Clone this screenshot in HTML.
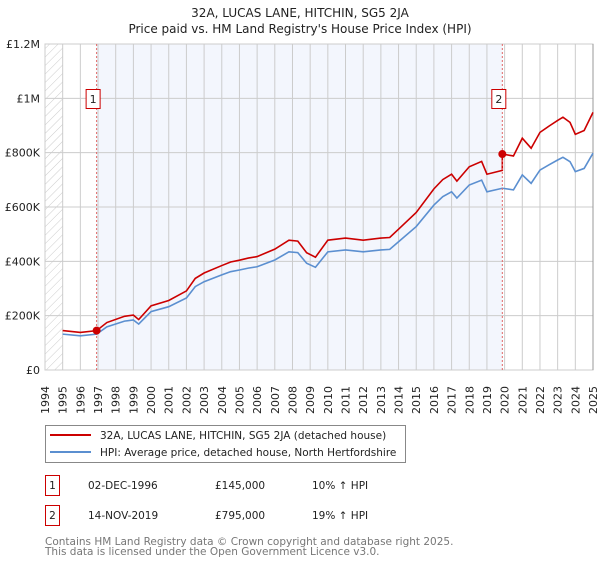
<!DOCTYPE html>
<html><head><meta charset="utf-8"><style>
body{margin:0;background:#fff;font-family:"DejaVu Sans","Liberation Sans",sans-serif;}
svg text{font-family:"DejaVu Sans","Liberation Sans",sans-serif;}
</style></head><body>
<svg id="chart" width="600" height="560" xmlns="http://www.w3.org/2000/svg">
<defs><pattern id="hatch" width="6" height="6" patternUnits="userSpaceOnUse" patternTransform="rotate(45)"><line x1="0" y1="0" x2="0" y2="6" stroke="#ccc" stroke-width="1"/></pattern></defs>
<text x="300" y="17" text-anchor="middle" font-size="12" fill="#222">32A, LUCAS LANE, HITCHIN, SG5 2JA</text>
<text x="300" y="33" text-anchor="middle" font-size="12" fill="#222">Price paid vs. HM Land Registry's House Price Index (HPI)</text>
<g id="plot"></g>
<g>
<rect x="45.5" y="425.5" width="360" height="37" fill="#fff" stroke="#888"/>
<line x1="50" y1="435" x2="91" y2="435" stroke="#cc0000" stroke-width="2"/>
<text x="100" y="439" font-size="10.5" fill="#222">32A, LUCAS LANE, HITCHIN, SG5 2JA (detached house)</text>
<line x1="50" y1="452" x2="91" y2="452" stroke="#5b8fd0" stroke-width="2"/>
<text x="100" y="456" font-size="10.5" fill="#222">HPI: Average price, detached house, North Hertfordshire</text>
</g>
<g>
<rect x="45.5" y="475.5" width="14" height="20" fill="#fff" stroke="#cc0000"/>
<text x="52.5" y="489" text-anchor="middle" font-size="10.5" fill="#222">1</text>
<text x="88" y="489" font-size="10.5" fill="#222">02-DEC-1996</text>
<text x="215" y="489" font-size="10.5" fill="#222">£145,000</text>
<text x="312" y="489" font-size="10.5" fill="#222">10% ↑ HPI</text>
<rect x="45.5" y="505.5" width="14" height="20" fill="#fff" stroke="#cc0000"/>
<text x="52.5" y="519" text-anchor="middle" font-size="10.5" fill="#222">2</text>
<text x="88" y="519" font-size="10.5" fill="#222">14-NOV-2019</text>
<text x="215" y="519" font-size="10.5" fill="#222">£795,000</text>
<text x="312" y="519" font-size="10.5" fill="#222">19% ↑ HPI</text>
</g>
<text x="45" y="545" font-size="10.5" fill="#777">Contains HM Land Registry data © Crown copyright and database right 2025.</text>
<text x="45" y="555" font-size="10.5" fill="#777">This data is licensed under the Open Government Licence v3.0.</text>
</svg>
<script>
const hpiYears=[1995,1996,1996.92,1997.5,1998.5,1999,1999.3,2000,2001,2002,2002.5,2003,2004,2004.5,2005,2005.5,2006,2007,2007.8,2008.3,2008.8,2009.3,2010,2011,2012,2013,2013.5,2014,2015,2016,2016.5,2017,2017.3,2018,2018.7,2019,2019.87,2020.5,2021,2021.5,2022,2022.5,2023,2023.3,2023.7,2024,2024.5,2025];
const hpiValues=[132,126,132,159,180,184,169,215,233,265,307,325,350,362,368,375,380,405,435,432,393,378,435,442,435,442,444,472,528,607,638,656,633,681,699,656,669,663,718,687,736,755,773,783,767,730,742,798];
const saleYears=[1996.92,2019.87];
const salePrices=[145,795];
const yTicks=[0,200,400,600,800,1000,1200];
const yTickLabels=["£0","£200K","£400K","£600K","£800K","£1M","£1.2M"];
const xYears=[1994,1995,1996,1997,1998,1999,2000,2001,2002,2003,2004,2005,2006,2007,2008,2009,2010,2011,2012,2013,2014,2015,2016,2017,2018,2019,2020,2021,2022,2023,2024,2025];

const L=45,R=593,T=44,B=370;
const x=y=>L+(y-1994)/(2025-1994)*(R-L);
const yv=v=>B-v/1200*(B-T);
const NS="http://www.w3.org/2000/svg";
const g=document.getElementById('plot');
function mk(t,a,p){const e=document.createElementNS(NS,t);for(const k in a)e.setAttribute(k,a[k]);(p||g).appendChild(e);return e;}
function hpiAt(t){for(let i=1;i<hpiYears.length;i++){if(t<=hpiYears[i]){const f=(t-hpiYears[i-1])/(hpiYears[i]-hpiYears[i-1]);return hpiValues[i-1]+f*(hpiValues[i]-hpiValues[i-1]);}}return hpiValues[hpiValues.length-1];}

mk('rect',{x:L,y:T,width:R-L,height:B-T,fill:'#fff'});
mk('rect',{x:x(saleYears[0]),y:T,width:x(saleYears[1])-x(saleYears[0]),height:B-T,fill:'#f3f6fd'});
mk('rect',{x:L,y:T,width:x(1995)-L,height:B-T,fill:'url(#hatch)'});
xYears.forEach(yr=>{
 const l=mk('line',{x1:x(yr),x2:x(yr),y1:T,y2:B,stroke:'#ccc','stroke-width':1});
 
 
 const t=mk('text',{transform:`translate(${x(yr)+4},${B+44}) rotate(-90)`,'font-size':11,fill:'#222'});
 t.textContent=yr;
 
 
});
yTicks.forEach((v,i)=>{
 const l=mk('line',{x1:L,x2:R,y1:yv(v),y2:yv(v),stroke:'#ccc','stroke-width':1});
 
 
 const t=mk('text',{x:L-5,y:yv(v)+4,'text-anchor':'end','font-size':11,fill:'#222'});
 t.textContent=yTickLabels[i];
 
 
});
mk('rect',{x:L,y:T,width:R-L,height:B-T,fill:'none',stroke:'#ccc'});
mk('line',{x1:R,x2:R,y1:T,y2:B,stroke:'#999'});

const hp=mk('polyline',{points:hpiYears.map((t,i)=>x(t)+','+yv(hpiValues[i])).join(' '),fill:'none',stroke:'#5b8fd0','stroke-width':1.6});



const grid=[...new Set([...hpiYears,...saleYears])].sort((a,b)=>a-b);
const pts2=[];
grid.forEach(t=>{
 if(t===saleYears[1]) pts2.push(x(t)+','+yv(hpiAt(t)*salePrices[0]/hpiAt(saleYears[0])));
 let k=0;for(let j=0;j<saleYears.length;j++)if(t>=saleYears[j])k=j;
 pts2.push(x(t)+','+yv(hpiAt(t)*salePrices[k]/hpiAt(saleYears[k])));
});
const pl=mk('polyline',{points:pts2.join(' '),fill:'none',stroke:'#cc0000','stroke-width':1.6});



saleYears.forEach((t,i)=>{
 const d=mk('line',{x1:x(t),x2:x(t),y1:T,y2:B,stroke:'#e06666','stroke-dasharray':'2,2'});
 
 
 const c=mk('circle',{cx:x(t),cy:yv(salePrices[i]),r:4,fill:'#cc0000'});
 
 
 const b=mk('rect',{x:x(t)-10.5,y:89.5,width:14,height:19,fill:'#fff',stroke:'#cc0000'});
 
 
 const tx=mk('text',{x:x(t)-3.5,y:103,'text-anchor':'middle','font-size':11,fill:'#222'});
 tx.textContent=String(i+1);
 
 
});
</script>
</body></html>
